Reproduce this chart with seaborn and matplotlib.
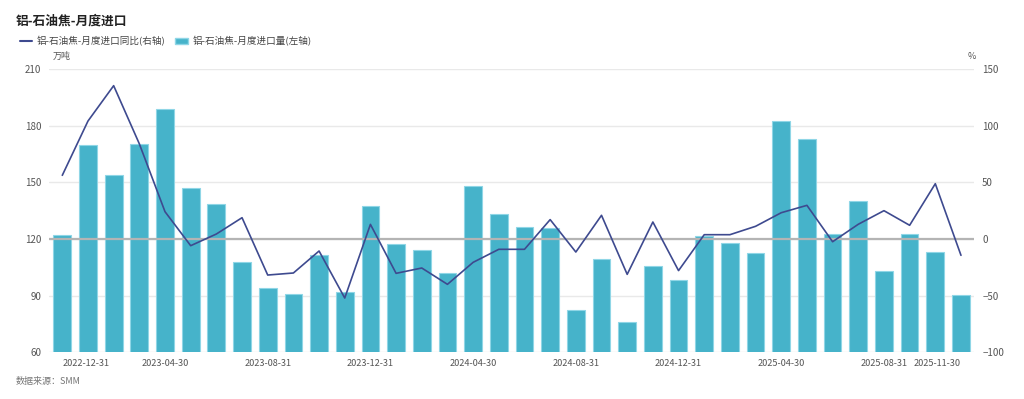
import numpy as np
import pandas as pd
import matplotlib
matplotlib.use("Agg")
import matplotlib.pyplot as plt
import seaborn as sns
from matplotlib.lines import Line2D
from matplotlib.patches import Patch

sns.set_theme(style="white")
plt.rcParams["font.family"] = ["Noto Sans CJK SC", "DejaVu Sans"]

months = pd.date_range("2022-12-31", periods=36, freq="ME").strftime("%Y-%m-%d").tolist()

# import volume, 10k tonnes (left axis)
volume = [122.0, 169.9, 153.9, 170.3, 189.0, 147.0, 138.7, 107.8, 93.9, 90.7,
          111.4, 92.1, 137.5, 117.5, 114.4, 101.8, 148.2, 133.4, 126.2, 125.8,
          82.6, 109.6, 75.9, 105.9, 98.3, 121.6, 117.9, 112.4, 182.3, 172.8,
          122.5, 140.1, 103.1, 122.5, 113.1, 90.4]

# year-on-year change, % (right axis)
yoy = [56.2, 104.1, 135.3, 84.0, 24.1, -5.9, 4.4, 18.8, -31.8, -30.0,
       -10.6, -52.1, 12.9, -30.3, -25.6, -40.0, -20.6, -9.1, -9.1, 17.1,
       -11.5, 20.9, -31.2, 15.0, -27.9, 3.8, 3.8, 11.2, 23.2, 29.7,
       -2.4, 13.0, 25.0, 12.1, 48.8, -14.4]

label_idx = [0, 4, 8, 12, 16, 20, 24, 28, 32, 35]

bar_name = "铝-石油焦-月度进口量(左轴)"
line_name = "铝-石油焦-月度进口同比(右轴)"
bar_color = "#46b3ca"
line_color = "#3e4a8f"
text_color = "#555555"

df = pd.DataFrame({"month": months, "volume": volume, "yoy": yoy, "pos": np.arange(len(months))})

fig = plt.figure(figsize=(10.24, 3.99), dpi=100)
ax = fig.add_axes([0.0483, 0.117, 0.9027, 0.710])

sns.barplot(data=df, x="month", y="volume", color=bar_color, saturation=1,
            width=0.69, edgecolor="#8fd6e6", linewidth=0.8, ax=ax, zorder=2)
ax.set_ylim(60, 210)
ax.set_yticks(np.arange(60, 211, 30))
ax.set_xlim(-0.5, len(months) - 0.5)
ax.grid(axis="y", color="#e9e9e9", linewidth=1, zorder=0)
ax.set_axisbelow(True)
ax.set_xlabel("")
ax.set_ylabel("")
ax.tick_params(axis="y", length=0, labelsize=7, colors=text_color, pad=6)
ax.tick_params(axis="x", length=0, labelsize=6.6, colors=text_color, pad=5)
ax.set_xticks(label_idx)
ax.set_xticklabels([months[i] for i in label_idx])
tl = ax.get_xticklabels()
tl[0].set_ha("left")
tl[-1].set_ha("right")
for s in ax.spines.values():
    s.set_visible(False)

ax2 = ax.twinx()
ax2.axhline(0, color="#b4b4b4", linewidth=1.6, zorder=1)
sns.lineplot(data=df, x="pos", y="yoy", color=line_color, linewidth=1.2, ax=ax2, zorder=3)
ax2.set_ylim(-100, 150)
ax2.set_yticks(np.arange(-100, 151, 50))
ax2.set_xlim(-0.5, len(months) - 0.5)
ax2.set_ylabel("")
ax2.tick_params(axis="y", length=0, labelsize=7, colors=text_color, pad=6)
for s in ax2.spines.values():
    s.set_visible(False)

fig.text(0.0156, 0.948, "铝-石油焦-月度进口", fontsize=9.2, fontweight="bold",
         color="#222222", va="center")
fig.text(0.051, 0.858, "万吨", fontsize=6.5, color=text_color, va="center")
fig.text(0.945, 0.858, "%", fontsize=6.5, color=text_color, va="center")
fig.text(0.0156, 0.043, "数据来源：SMM", fontsize=6.5, color="#777777", va="center")

handles = [Line2D([0], [0], color=line_color, linewidth=1.5),
           Patch(facecolor=bar_color, edgecolor="#8fd6e6")]
fig.legend(handles, [line_name, bar_name], loc="center left",
           bbox_to_anchor=(0.011, 0.897), ncol=2, frameon=False, fontsize=6.9,
           handlelength=1.3, handleheight=0.6, handletextpad=0.5, columnspacing=1.0,
           labelcolor="#444444")

fig.savefig("out.png", dpi=100)
